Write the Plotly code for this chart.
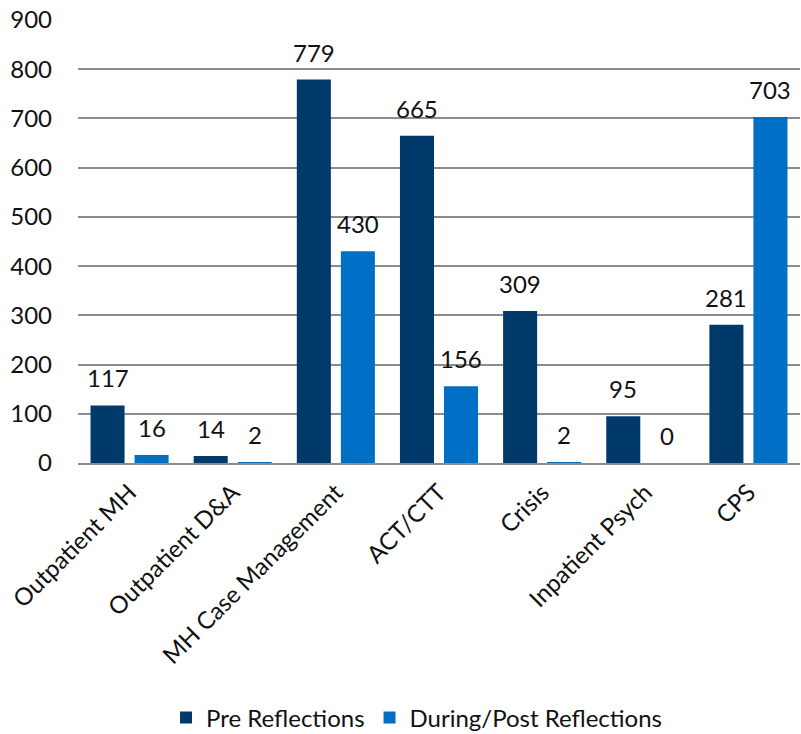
import plotly.graph_objects as go

categories = ["Outpatient MH", "Outpatient D&A", "MH Case Management", "ACT/CTT",
              "Crisis", "Inpatient Psych", "CPS"]
pre_reflections = [117, 14, 779, 665, 309, 95, 281]
during_post_reflections = [16, 2, 430, 156, 2, 0, 703]
y_ticks = [0, 100, 200, 300, 400, 500, 600, 700, 800, 900]

FONT = "Lato"
SIZE = 24
DARK = "#003A6B"
LIGHT = "#0070C6"
TEXT = "#111111"

W, H = 801, 734
M_L, M_R, M_T, M_B = 78, 1, 20, 271
BARGAP, BARGROUPGAP = 0.146, 0.227

fig = go.Figure()
series = [("Pre Reflections", pre_reflections, DARK),
          ("During/Post Reflections", during_post_reflections, LIGHT)]
for name, vals, col in series:
    fig.add_trace(go.Bar(
        name=name, x=categories, y=vals,
        marker=dict(color=col, line=dict(width=0)),
    ))

# value labels sit a little above each bar, centred on its slot in the group
cat_px = (W - M_L - M_R) / len(categories)
slot_px = cat_px * (1 - BARGAP) / len(series)
for i, (name, vals, col) in enumerate(series):
    shift = (i - (len(series) - 1) / 2) * slot_px
    for c, v in zip(categories, vals):
        fig.add_annotation(
            x=c, y=v, xref="x", yref="y", text=str(v), showarrow=False,
            xshift=shift, yshift=11, yanchor="bottom",
            font=dict(family=FONT, size=SIZE, color=TEXT),
        )

fig.update_layout(
    width=W, height=H,
    margin=dict(l=M_L, r=M_R, t=M_T, b=M_B),
    paper_bgcolor="white", plot_bgcolor="white",
    barmode="group", bargap=BARGAP, bargroupgap=BARGROUPGAP,
    font=dict(family=FONT, size=SIZE, color=TEXT),
    legend=dict(
        orientation="h", xref="container", yref="container",
        x=0.52, xanchor="center", y=0.022, yanchor="middle",
        font=dict(size=SIZE, family=FONT), traceorder="normal",
    ),
    showlegend=True,
)
fig.update_xaxes(
    tickangle=-45, showline=True, linecolor="#8c8c8c", linewidth=2,
    ticks="", tickfont=dict(size=SIZE, family=FONT), showgrid=False,
    ticklabelstandoff=4,
)
fig.update_yaxes(
    range=[0, 900], tickvals=y_ticks, showgrid=True, gridcolor="#8c8c8c",
    gridwidth=2, zeroline=False, showline=False, ticks="",
    tickfont=dict(size=SIZE, family=FONT), ticklabelstandoff=25,
)

fig.write_html("out.html")
